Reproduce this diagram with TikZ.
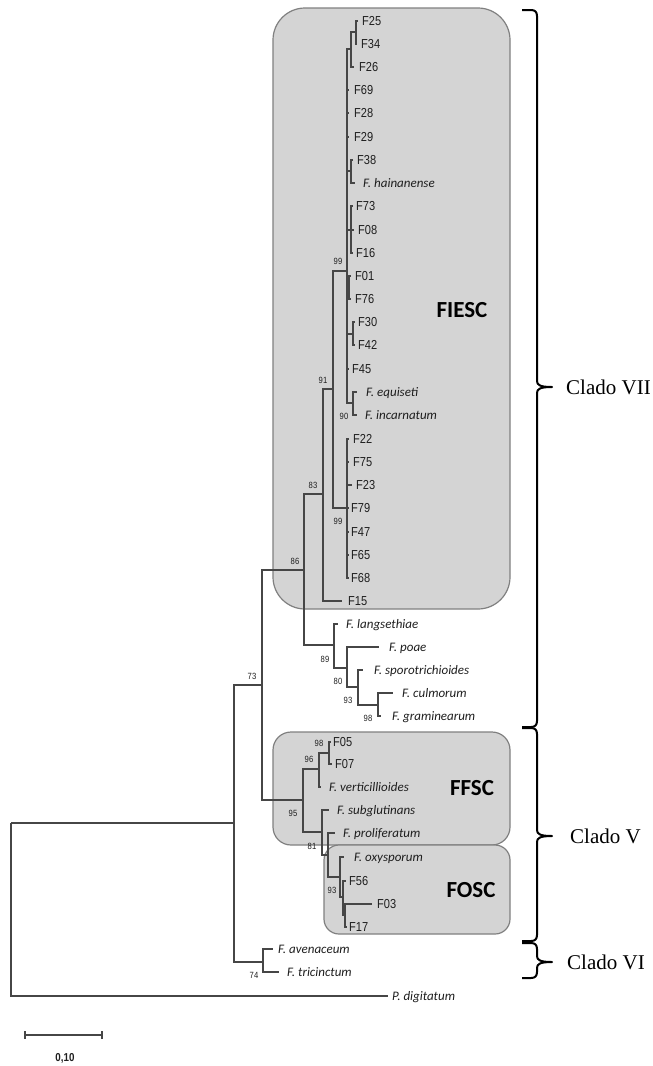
\documentclass[tikz,border=0pt]{standalone}
\usepackage{fontspec}
\setmainfont{Liberation Serif}
\newfontfamily\leaffont{Liberation Sans}[FakeStretch=0.85]
\newfontfamily\spfont{Carlito}
\newfontfamily\boxfont{Carlito}
\definecolor{branchc}{RGB}{70,70,70}
\definecolor{boxfill}{RGB}{212,212,212}
\definecolor{boxline}{RGB}{128,128,128}
\definecolor{txtc}{RGB}{30,30,30}
\tikzset{
  br/.style={draw=branchc, line width=1.4pt},
  leaf/.style={anchor=west, inner sep=0pt, text height=9.3pt, text depth=0pt, text=txtc, font=\leaffont\fontsize{13}{13}\selectfont},
  spc/.style={anchor=west, inner sep=0pt, text height=8.4pt, text depth=0pt, text=txtc, font=\spfont\itshape\fontsize{13}{13}\selectfont},
  bs/.style={inner sep=0pt, text height=6.4pt, text depth=0pt, text=txtc, font=\leaffont\fontsize{9}{9}\selectfont},
  grp/.style={draw=boxline, fill=boxfill, line width=1.2pt},
  grplabel/.style={inner sep=0pt, text=black, font=\boxfont\bfseries\fontsize{23}{23}\selectfont},
  clade/.style={anchor=west, inner sep=0pt, text=black, font=\fontsize{21}{21}\selectfont},
  brc/.style={draw=black, line width=2pt, line join=round},
}
\newcommand\cladebrace[3]{%
  \draw[brc] (522,#1) -- (531,#1) .. controls (535,#1) and (537,#1+2) .. (537,#1+6)
    -- (537,#3-6) .. controls (537,#3-2) and (540,#3) .. (552,#3)
    .. controls (540,#3) and (537,#3+2) .. (537,#3+6)
    -- (537,#2-6) .. controls (537,#2-2) and (535,#2) .. (531,#2) -- (522,#2);}
\begin{document}
\begin{tikzpicture}[x=1pt,y=-1pt]
\useasboundingbox (0,0) rectangle (653,1066);
% group boxes
\draw[grp, rounded corners=32pt] (273,8) rectangle (510,609);
\draw[grp, rounded corners=18pt] (273,732) rectangle (510,845);
\draw[grp, rounded corners=15pt] (324,845) rectangle (510,934);
\node[grplabel] (lFIESC) at (462,310) {FIESC};
\node[grplabel] (lFFSC) at (472,788) {FFSC};
\node[grplabel] (lFOSC) at (471,890) {FOSC};
% internal nodes
\coordinate (R) at (11,823);
\coordinate (A) at (234,823);
\coordinate (N73) at (262,685);
\coordinate (N86) at (304,570);
\coordinate (N83) at (323,494);
\coordinate (N91) at (333,389);
\coordinate (N99a) at (347,271);
\coordinate (Ntop) at (351,49);
\coordinate (N2534) at (356,32);
\coordinate (N38) at (351,171);
\coordinate (N73g) at (351,230);
\coordinate (N01) at (349,287);
\coordinate (N30) at (353,334);
\coordinate (N90) at (353,403);
\coordinate (N99b) at (347,508);
\coordinate (N89) at (334,645);
\coordinate (N80) at (347,668);
\coordinate (N93a) at (358,687);
\coordinate (N98a) at (378,705);
\coordinate (N95) at (303,800);
\coordinate (N96) at (319,769);
\coordinate (N98b) at (329,753);
\coordinate (N81a) at (322,832);
\coordinate (N81) at (328,855);
\coordinate (N93b) at (340,877);
\coordinate (N56) at (343,897);
\coordinate (N03) at (345,915);
\coordinate (N74) at (263,962);
% tips
\coordinate (t0) at (358,21);
\coordinate (t1) at (357,44);
\coordinate (t2) at (354,67);
\coordinate (t3) at (349,90);
\coordinate (t4) at (349,113);
\coordinate (t5) at (349,137);
\coordinate (t6) at (353,160);
\coordinate (t7) at (355,183);
\coordinate (t8) at (353,206);
\coordinate (t9) at (354,230);
\coordinate (t10) at (353,253);
\coordinate (t11) at (351,276);
\coordinate (t12) at (351,299);
\coordinate (t13) at (355,322);
\coordinate (t14) at (355,345);
\coordinate (t15) at (349,369);
\coordinate (t16) at (357,392);
\coordinate (t17) at (357,415);
\coordinate (t18) at (349,439);
\coordinate (t19) at (349,462);
\coordinate (t20) at (352,485);
\coordinate (t21) at (349,508);
\coordinate (t22) at (349,532);
\coordinate (t23) at (349,555);
\coordinate (t24) at (349,578);
\coordinate (t25) at (342,601);
\coordinate (t26) at (338,624);
\coordinate (t27) at (379,647);
\coordinate (t28) at (363,670);
\coordinate (t29) at (393,693);
\coordinate (t30) at (381,716);
\coordinate (t31) at (331,742);
\coordinate (t32) at (332,764);
\coordinate (t33) at (321,787);
\coordinate (t34) at (329,810);
\coordinate (t35) at (335,833);
\coordinate (t36) at (344,857);
\coordinate (t37) at (346,881);
\coordinate (t38) at (372,904);
\coordinate (t39) at (347,927);
\coordinate (t40) at (273,949);
\coordinate (t41) at (279,972);
\coordinate (t42) at (388,996);
% branches
\draw[br] (R) |- (A);
\draw[br] (R) |- (t42);
\draw[br] (A) |- (N73);
\draw[br] (A) |- (N74);
\draw[br] (N74) |- (t40);
\draw[br] (N74) |- (t41);
\draw[br] (N73) |- (N86);
\draw[br] (N73) |- (N95);
\draw[br] (N86) |- (N83);
\draw[br] (N86) |- (N89);
\draw[br] (N83) |- (N91);
\draw[br] (N83) |- (t25);
\draw[br] (N91) |- (N99a);
\draw[br] (N91) |- (N99b);
\draw[br] (N99a) |- (Ntop);
\draw[br] (Ntop) |- (N2534);
\draw[br] (N2534) |- (t0);
\draw[br] (N2534) |- (t1);
\draw[br] (Ntop) |- (t2);
\draw[br] (N99a) |- (t3);
\draw[br] (N99a) |- (t4);
\draw[br] (N99a) |- (t5);
\draw[br] (N99a) |- (N38);
\draw[br] (N38) |- (t6);
\draw[br] (N38) |- (t7);
\draw[br] (N99a) |- (N73g);
\draw[br] (N73g) |- (t8);
\draw[br] (N73g) |- (t9);
\draw[br] (N73g) |- (t10);
\draw[br] (N99a) |- (N01);
\draw[br] (N01) |- (t11);
\draw[br] (N01) |- (t12);
\draw[br] (N99a) |- (N30);
\draw[br] (N30) |- (t13);
\draw[br] (N30) |- (t14);
\draw[br] (N99a) |- (t15);
\draw[br] (N99a) |- (N90);
\draw[br] (N90) |- (t16);
\draw[br] (N90) |- (t17);
\draw[br] (N99b) |- (t18);
\draw[br] (N99b) |- (t19);
\draw[br] (N99b) |- (t20);
\draw[br] (N99b) |- (t21);
\draw[br] (N99b) |- (t22);
\draw[br] (N99b) |- (t23);
\draw[br] (N99b) |- (t24);
\draw[br] (N89) |- (t26);
\draw[br] (N89) |- (N80);
\draw[br] (N80) |- (t27);
\draw[br] (N80) |- (N93a);
\draw[br] (N93a) |- (t28);
\draw[br] (N93a) |- (N98a);
\draw[br] (N98a) |- (t29);
\draw[br] (N98a) |- (t30);
\draw[br] (N95) |- (N96);
\draw[br] (N95) |- (N81a);
\draw[br] (N96) |- (N98b);
\draw[br] (N96) |- (t33);
\draw[br] (N98b) |- (t31);
\draw[br] (N98b) |- (t32);
\draw[br] (N81a) |- (t34);
\draw[br] (N81a) |- (N81);
\draw[br] (N81) |- (t35);
\draw[br] (N81) |- (N93b);
\draw[br] (N93b) |- (t36);
\draw[br] (N93b) |- (N56);
\draw[br] (N56) |- (t37);
\draw[br] (N56) |- (N03);
\draw[br] (N03) |- (t38);
\draw[br] (N03) |- (t39);
% leaf labels
\node[leaf] (L0) at (362,21) {F25};
\node[leaf] (L1) at (361,44) {F34};
\node[leaf] (L2) at (359,67) {F26};
\node[leaf] (L3) at (354,90) {F69};
\node[leaf] (L4) at (354,113) {F28};
\node[leaf] (L5) at (354,137) {F29};
\node[leaf] (L6) at (357,160) {F38};
\node[spc] (L7) at (363,183) {F. hainanense};
\node[leaf] (L8) at (356,206) {F73};
\node[leaf] (L9) at (358,230) {F08};
\node[leaf] (L10) at (356,253) {F16};
\node[leaf] (L11) at (355,276) {F01};
\node[leaf] (L12) at (355,299) {F76};
\node[leaf] (L13) at (358,322) {F30};
\node[leaf] (L14) at (358,345) {F42};
\node[leaf] (L15) at (352,369) {F45};
\node[spc] (L16) at (366,392) {F. equiseti};
\node[spc] (L17) at (365,415) {F. incarnatum};
\node[leaf] (L18) at (353,439) {F22};
\node[leaf] (L19) at (353,462) {F75};
\node[leaf] (L20) at (356,485) {F23};
\node[leaf] (L21) at (351,508) {F79};
\node[leaf] (L22) at (351,532) {F47};
\node[leaf] (L23) at (351,555) {F65};
\node[leaf] (L24) at (351,578) {F68};
\node[leaf] (L25) at (348,601) {F15};
\node[spc] (L26) at (346,624) {F. langsethiae};
\node[spc] (L27) at (389,647) {F. poae};
\node[spc] (L28) at (374,670) {F. sporotrichioides};
\node[spc] (L29) at (402,693) {F. culmorum};
\node[spc] (L30) at (392,716) {F. graminearum};
\node[leaf] (L31) at (333,742) {F05};
\node[leaf] (L32) at (335,764) {F07};
\node[spc] (L33) at (329,787) {F. verticillioides};
\node[spc] (L34) at (337,810) {F. subglutinans};
\node[spc] (L35) at (343,833) {F. proliferatum};
\node[spc] (L36) at (354,857) {F. oxysporum};
\node[leaf] (L37) at (349,881) {F56};
\node[leaf] (L38) at (377,904) {F03};
\node[leaf] (L39) at (349,927) {F17};
\node[spc] (L40) at (278,949) {F. avenaceum};
\node[spc] (L41) at (287,972) {F. tricinctum};
\node[spc] (L42) at (392,996) {P. digitatum};
% bootstrap values
\node[bs] (b1) at (338,261) {99};
\node[bs] (b2) at (323,380) {91};
\node[bs] (b3) at (344,416) {90};
\node[bs] (b4) at (313,485) {83};
\node[bs] (b5) at (338,521) {99};
\node[bs] (b6) at (295,561) {86};
\node[bs] (b7) at (252,676) {73};
\node[bs] (b8) at (325,659) {89};
\node[bs] (b9) at (338,681) {80};
\node[bs] (b10) at (348,700) {93};
\node[bs] (b11) at (368,718) {98};
\node[bs] (b12) at (319,743) {98};
\node[bs] (b13) at (309,759) {96};
\node[bs] (b14) at (293,813) {95};
\node[bs] (b15) at (312,846) {81};
\node[bs] (b16) at (332,890) {93};
\node[bs] (b17) at (254,975) {74};
% clade braces
\cladebrace{10}{727}{387}
\cladebrace{728}{941}{836}
\cladebrace{943}{978}{962}
\node[clade] (c7) at (566,387) {Clado VII};
\node[clade] (c5) at (570,836) {Clado V};
\node[clade] (c6) at (567,962) {Clado VI};
% scale bar
\coordinate (s1) at (25,1035);
\coordinate (s2) at (102,1035);
\draw[br] (s1) -- (s2);
\draw[br] (s1) ++(0,-4) -- ++(0,8);
\draw[br] (s2) ++(0,-4) -- ++(0,8);
\node[inner sep=0pt, text=txtc, font=\leaffont\bfseries\fontsize{11.5}{11.5}\selectfont] (sl) at (65,1058) {0,10};
\end{tikzpicture}
\end{document}
